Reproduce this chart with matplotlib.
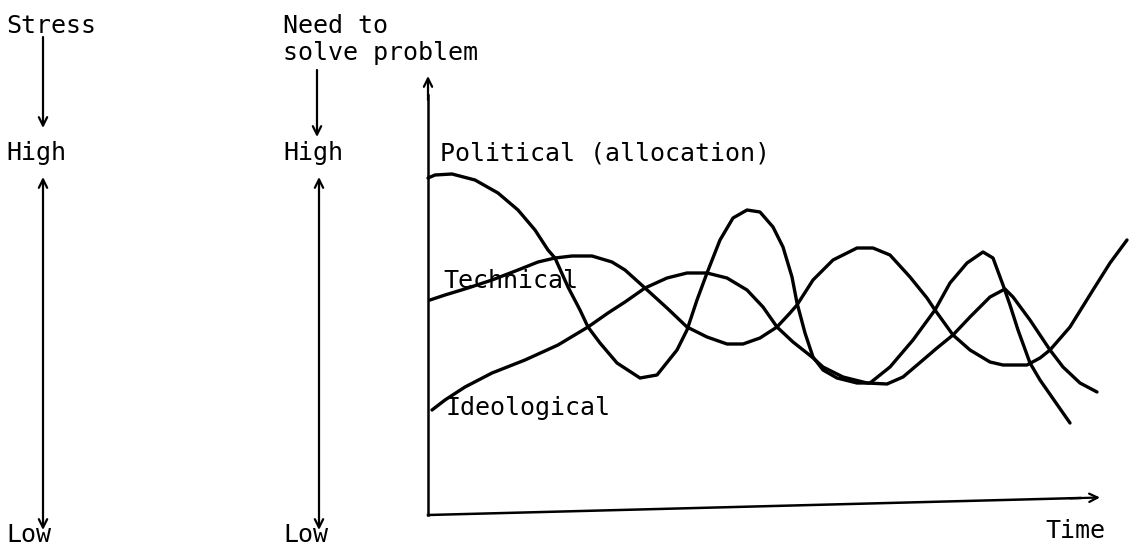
import matplotlib.pyplot as plt

# curves (x = time in px, y = level in px, y grows downward)
political_x = [428, 435, 452, 475, 498, 518, 535, 548, 555, 568, 580, 588, 600, 617, 640, 657,
               677, 687, 697, 707, 720, 733, 747, 760, 773, 783, 792, 797, 805, 813, 823, 837,
               857, 870, 890, 913, 935, 950, 967, 983, 993, 1003, 1010, 1018, 1030, 1040, 1070]
political_y = [178, 175, 174, 180, 193, 210, 230, 250, 258, 287, 310, 327, 343, 363, 378, 375,
               350, 330, 300, 273, 240, 218, 210, 212, 227, 247, 277, 303, 333, 357, 370, 378,
               383, 383, 367, 340, 310, 283, 263, 252, 258, 285, 305, 330, 363, 380, 423]

technical_x = [430, 445, 468, 492, 518, 538, 555, 572, 592, 612, 625, 645, 667, 687, 707, 727,
               743, 760, 777, 790, 797, 813, 833, 857, 873, 890, 910, 927, 935, 953, 970, 990,
               1003, 1027, 1040, 1050, 1070, 1093, 1110, 1127]
technical_y = [300, 295, 288, 280, 270, 262, 258, 256, 256, 262, 270, 288, 308, 327, 337, 344,
               344, 338, 327, 313, 305, 280, 260, 248, 248, 255, 277, 298, 310, 335, 350, 362,
               365, 365, 358, 350, 327, 290, 263, 240]

ideological_x = [432, 445, 465, 492, 525, 558, 588, 608, 625, 645, 667, 687, 707, 727, 747, 763,
                 777, 793, 812, 823, 843, 867, 887, 903, 923, 937, 953, 970, 990, 1005, 1013,
                 1030, 1050, 1063, 1080, 1097]
ideological_y = [410, 400, 387, 373, 360, 345, 327, 313, 302, 288, 278, 273, 273, 278, 290, 307,
                 327, 342, 357, 367, 377, 383, 384, 377, 360, 348, 335, 317, 297, 289, 297,
                 320, 350, 367, 383, 392]

W, H = 1130, 549
fig = plt.figure(figsize=(W / 100, H / 100), dpi=100)
ax = fig.add_axes([0, 0, 1, 1])
ax.set_xlim(0, W)
ax.set_ylim(H, 0)
ax.axis('off')

font = dict(family='DejaVu Sans Mono', fontsize=18, color='black', va='baseline', ha='left')
lw = 2.4

for xs, ys in [(political_x, political_y), (technical_x, technical_y),
               (ideological_x, ideological_y)]:
    ax.plot(xs, ys, color='black', lw=lw, solid_joinstyle='round', solid_capstyle='round')


def arrow(x0, y0, x1, y1, both=False):
    style = '<->' if both else '->'
    ax.annotate('', xy=(x1, y1), xytext=(x0, y0),
                arrowprops=dict(arrowstyle=style + ',head_length=0.6,head_width=0.3',
                                color='black', lw=1.6, shrinkA=0, shrinkB=0))


# left scales
ax.text(6, 33, 'Stress', **font)
arrow(43, 37, 43, 128)
ax.text(6, 160, 'High', **font)
arrow(43, 530, 43, 177, both=True)
ax.text(6, 542, 'Low', **font)

ax.text(283, 33, 'Need to', **font)
ax.text(283, 60, 'solve problem', **font)
arrow(317, 70, 317, 137)
ax.text(283, 160, 'High', **font)
arrow(319, 530, 319, 177, both=True)
ax.text(283, 542, 'Low', **font)

# main axes
ax.plot([428, 428], [515, 95], color='black', lw=1.8)
arrow(428, 100, 428, 76)
ax.plot([428, 1080], [515, 498], color='black', lw=1.8)
arrow(1070, 498.3, 1100, 497.5)
ax.text(1045, 538, 'Time', **font)

# curve labels
ax.text(440, 160, 'Political (allocation)', **font)
ax.text(443, 288, 'Technical', **font)
ax.text(445, 415, 'Ideological', **font)

fig.savefig('out.png', dpi=100, facecolor='white')
